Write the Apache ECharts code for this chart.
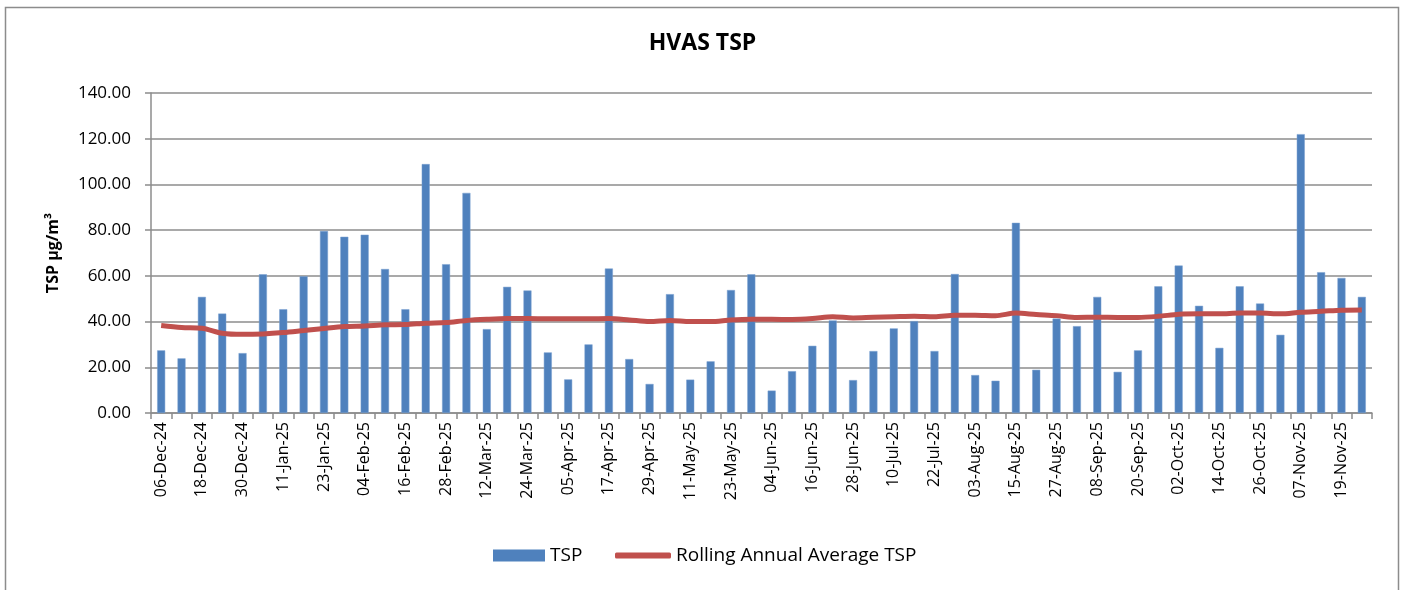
<!DOCTYPE html>
<html>
<head>
<meta charset="utf-8">
<title>HVAS TSP</title>
<script src="https://cdn.jsdelivr.net/npm/echarts@6/dist/echarts.min.js"></script>
<style>
  html, body { margin: 0; padding: 0; background: #fff; }
  #chart1 { width: 1405px; height: 590px; }
</style>
</head>
<body>
<div id="chart1"></div>
<script>
// fechas de muestreo (cada 6 dias)
const dates = [
    '06-Dec-24', '12-Dec-24', '18-Dec-24', '24-Dec-24', '30-Dec-24', '05-Jan-25',
    '11-Jan-25', '17-Jan-25', '23-Jan-25', '29-Jan-25', '04-Feb-25', '10-Feb-25',
    '16-Feb-25', '22-Feb-25', '28-Feb-25', '06-Mar-25', '12-Mar-25', '18-Mar-25',
    '24-Mar-25', '30-Mar-25', '05-Apr-25', '11-Apr-25', '17-Apr-25', '23-Apr-25',
    '29-Apr-25', '05-May-25', '11-May-25', '17-May-25', '23-May-25', '29-May-25',
    '04-Jun-25', '10-Jun-25', '16-Jun-25', '22-Jun-25', '28-Jun-25', '04-Jul-25',
    '10-Jul-25', '16-Jul-25', '22-Jul-25', '28-Jul-25', '03-Aug-25', '09-Aug-25',
    '15-Aug-25', '21-Aug-25', '27-Aug-25', '02-Sep-25', '08-Sep-25', '14-Sep-25',
    '20-Sep-25', '26-Sep-25', '02-Oct-25', '08-Oct-25', '14-Oct-25', '20-Oct-25',
    '26-Oct-25', '01-Nov-25', '07-Nov-25', '13-Nov-25', '19-Nov-25', '25-Nov-25'
];

const tsp = [
    27.4, 23.9, 50.8, 43.5, 26.2, 60.7, 45.4, 59.8, 79.6, 77.1,
    78.0, 63.0, 45.4, 108.9, 65.1, 96.3, 36.7, 55.2, 53.6, 26.5,
    14.7, 30.0, 63.2, 23.6, 12.7, 52.0, 14.6, 22.6, 53.8, 60.7,
    9.8, 18.3, 29.4, 40.5, 14.4, 27.1, 37.0, 40.2, 27.1, 60.8,
    16.6, 14.1, 83.2, 18.9, 41.3, 38.0, 50.8, 18.0, 27.4, 55.4,
    64.5, 46.9, 28.5, 55.4, 47.9, 34.2, 122.0, 61.6, 59.1, 50.8
];

const rollingAvg = [
    38.3, 37.4, 37.1, 34.9, 34.4, 34.6, 35.2, 36.1, 37.0, 37.8,
    38.1, 38.6, 38.7, 39.3, 39.6, 40.5, 41.0, 41.3, 41.3, 41.2,
    41.2, 41.2, 41.3, 40.7, 40.0, 40.5, 40.0, 40.0, 40.7, 41.0,
    41.0, 40.9, 41.3, 42.1, 41.6, 41.9, 42.1, 42.3, 42.1, 42.8,
    42.8, 42.6, 43.7, 43.1, 42.6, 41.8, 41.9, 41.8, 41.8, 42.3,
    43.2, 43.4, 43.4, 43.7, 43.7, 43.4, 44.1, 44.5, 45.0, 45.1
];

const yTicks = { min: 0, max: 140, interval: 20 };

const fontName = 'Open Sans';
const gridGray = '#8c8c8c';
const barColor = '#4F81BD';
const lineColor = '#C0504D';

let chart1;

function initCharts() {
    chart1 = echarts.init(document.getElementById('chart1'));

    let legendText = { fontFamily: fontName, fontSize: 19, color: '#000' };

    let option = {
        animation: false,
        backgroundColor: '#fff',
        textStyle: { fontFamily: fontName, color: '#000' },
        title: {
            text: 'HVAS TSP',
            left: 'center',
            top: 27,
            textStyle: { fontFamily: fontName, fontSize: 23, fontWeight: 'bold', color: '#000' }
        },
        graphic: [
            {
                type: 'rect',
                shape: { x: 5.5, y: 7.5, width: 1393, height: 600 },
                style: { fill: null, stroke: '#8c8c8c', lineWidth: 1.5 },
                silent: true
            }
        ],
        // dos leyendas para que el icono de la linea sea delgado
        legend: [
            {
                left: 488,
                top: 541,
                itemWidth: 52,
                itemHeight: 12,
                textStyle: legendText,
                data: [{ name: 'TSP', icon: 'rect', itemStyle: { color: barColor, borderWidth: 0 } }]
            },
            {
                left: 610,
                top: 541,
                itemWidth: 56,
                itemHeight: 6,
                textStyle: legendText,
                data: [{ name: 'Rolling Annual Average TSP', icon: 'roundRect', itemStyle: { color: lineColor } }]
            }
        ],
        grid: {
            left: 151,
            right: 33,
            top: 93,
            bottom: 177,
            outerBoundsMode: 'none'
        },
        xAxis: {
            type: 'category',
            data: dates,
            boundaryGap: true,
            axisLine: { lineStyle: { color: gridGray, width: 1.5 } },
            axisTick: { show: true, interval: 0, length: 6, lineStyle: { color: gridGray, width: 1.5 } },
            axisLabel: {
                interval: 1,
                rotate: 90,
                margin: 9,
                fontFamily: fontName,
                fontSize: 16,
                color: '#000'
            },
            splitLine: { show: false }
        },
        yAxis: {
            type: 'value',
            min: yTicks.min,
            max: yTicks.max,
            interval: yTicks.interval,
            name: 'TSP µg/m³',
            nameLocation: 'middle',
            nameRotate: 90,
            nameGap: 90,
            nameTextStyle: { fontFamily: fontName, fontSize: 16, fontWeight: 'bold', color: '#000' },
            axisLine: { show: true, lineStyle: { color: gridGray, width: 1.5 } },
            axisTick: { show: true, inside: false, length: 6, lineStyle: { color: gridGray, width: 1.5 } },
            axisLabel: {
                margin: 20,
                fontFamily: fontName,
                fontSize: 17,
                color: '#000',
                formatter: function (v) { return v.toFixed(2); }
            },
            splitLine: { show: true, lineStyle: { color: gridGray, width: 1.5 } }
        },
        series: [
            {
                name: 'TSP',
                type: 'bar',
                data: tsp,
                barWidth: 8,
                itemStyle: { color: barColor, borderColor: '#7aa0d0', borderWidth: 0.5 }
            },
            {
                name: 'Rolling Annual Average TSP',
                type: 'line',
                data: rollingAvg,
                smooth: 0.3,
                symbol: 'none',
                lineStyle: { color: lineColor, width: 5 },
                itemStyle: { color: lineColor },
                z: 3
            }
        ]
    };

    chart1.setOption(option);
}

document.addEventListener('DOMContentLoaded', function () {
    initCharts();
});
</script>
</body>
</html>
